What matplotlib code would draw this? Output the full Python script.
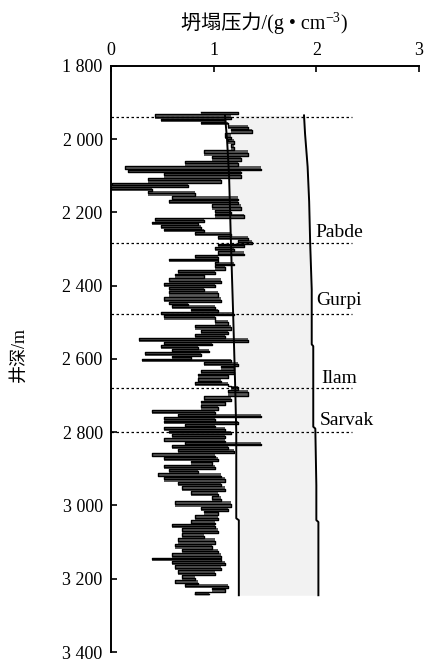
import numpy as np
import matplotlib
matplotlib.use("Agg")
import matplotlib.pyplot as plt

plt.rcParams['font.family'] = ['Liberation Serif', 'Noto Sans CJK SC', 'DejaVu Sans']

# collapse pressure log: depth (m), left / right extent of the trace (g/cm3)
depth = [1925, 1939, 1948, 1956, 1967, 1975, 1993, 2006, 2020, 2038, 2052, 2066,
         2080, 2089, 2098, 2112, 2125, 2135, 2148, 2162, 2171, 2185, 2199, 2208,
         2221, 2230, 2240, 2249, 2258, 2271, 2281, 2290, 2299, 2312, 2322, 2331,
         2340, 2349, 2363, 2372, 2386, 2399, 2408, 2421, 2440, 2449, 2458, 2467,
         2476, 2486, 2499, 2513, 2527, 2536, 2547, 2558, 2568, 2577, 2586, 2595,
         2604, 2613, 2623, 2636, 2645, 2659, 2668, 2677, 2691, 2709, 2718, 2732,
         2746, 2755, 2764, 2773, 2782, 2791, 2800, 2809, 2823, 2831, 2841, 2850,
         2864, 2873, 2882, 2896, 2905, 2919, 2928, 2941, 2955, 2968, 2982, 2996,
         3010, 3019, 3033, 3047, 3056, 3069, 3083, 3097, 3111, 3124, 3138, 3147,
         3157, 3170, 3184, 3197, 3211, 3220, 3229, 3242]
lo = [0.88, 0.43, 0.49, 0.88, 1.14, 1.17, 1.11, 1.14, 1.17, 0.91, 0.98, 0.72,
      0.14, 0.17, 0.52, 0.36, 0.01, 0.00, 0.36, 0.59, 0.56, 0.98, 1.01, 1.01,
      0.43, 0.40, 0.49, 0.52, 0.82, 1.04, 1.24, 1.04, 1.01, 1.04, 0.82, 0.56,
      1.01, 1.01, 0.65, 0.62, 0.56, 0.52, 0.56, 0.56, 0.52, 0.56, 0.59, 0.78,
      0.49, 0.52, 1.01, 0.82, 0.88, 0.82, 0.27, 0.52, 0.49, 0.59, 0.33, 0.59,
      0.30, 0.91, 1.07, 0.88, 0.85, 0.85, 0.82, 1.17, 1.14, 0.91, 0.88, 0.88,
      0.40, 0.65, 0.52, 0.52, 0.72, 0.52, 0.56, 0.59, 0.52, 0.72, 0.59, 0.65,
      0.40, 0.52, 0.78, 0.52, 0.56, 0.46, 0.52, 0.65, 0.69, 0.78, 0.98, 0.62,
      0.88, 0.91, 0.82, 0.78, 0.59, 0.69, 0.69, 0.65, 0.62, 0.69, 0.59, 0.40,
      0.59, 0.62, 0.65, 0.69, 0.62, 0.72, 0.98, 0.82]
hi = [1.24, 1.17, 1.11, 1.14, 1.33, 1.37, 1.17, 1.20, 1.20, 1.33, 1.27, 1.24,
      1.46, 1.27, 1.27, 1.07, 0.75, 0.40, 0.82, 1.24, 1.24, 1.27, 1.17, 1.30,
      0.91, 0.85, 0.88, 0.91, 1.17, 1.33, 1.37, 1.30, 1.20, 1.30, 1.04, 1.04,
      1.20, 1.11, 1.01, 0.91, 1.07, 1.01, 0.91, 1.04, 1.07, 0.75, 1.01, 1.04,
      1.20, 1.01, 1.14, 1.17, 1.14, 1.11, 1.33, 0.98, 0.85, 0.95, 0.88, 0.78,
      1.17, 1.24, 1.20, 1.20, 1.14, 1.07, 1.14, 1.24, 1.33, 1.17, 1.11, 1.04,
      1.01, 1.46, 1.01, 1.24, 1.01, 1.11, 1.17, 1.11, 1.11, 1.46, 1.14, 1.20,
      1.01, 1.04, 0.98, 1.01, 0.85, 1.07, 1.11, 1.07, 1.11, 1.04, 1.07, 1.17,
      1.14, 1.04, 1.04, 1.01, 1.01, 1.04, 0.91, 1.01, 0.98, 1.04, 1.07, 1.07,
      1.11, 1.07, 1.01, 0.82, 0.85, 1.14, 1.11, 0.95]

# lower bound (collapse trend) and upper bound lines
low_depth = [1935, 2000, 2100, 2200, 2300, 2480, 2680, 2800, 3035, 3040, 3245]
low_val = [1.11, 1.13, 1.15, 1.16, 1.17, 1.19, 1.21, 1.22, 1.22, 1.245, 1.245]
up_depth = [1935, 1985, 2075, 2170, 2285, 2410, 2560, 2565, 2785, 2790, 2945,
            3040, 3045, 3245]
up_val = [1.88, 1.89, 1.915, 1.93, 1.94, 1.955, 1.955, 1.97, 1.97, 1.99, 2.0,
          2.0, 2.02, 2.02]

# formation tops
tops = [1938, 2284, 2478, 2680, 2799]
formations = ['Pabde', 'Gurpi', 'Ilam', 'Sarvak']
form_x = [1.99, 2.0, 2.05, 2.03]
form_y = [2254, 2440, 2654, 2769]

yticks = [1800, 2000, 2200, 2400, 2600, 2800, 3000, 3200, 3400]
ytick_labels = ['1 800', '2 000', '2 200', '2 400', '2 600', '2 800', '3 000',
                '3 200', '3 400']

fig = plt.figure(figsize=(4.25, 6.61), dpi=100)
ax = fig.add_axes([0.2612, 0.0136, 0.7247, 0.8866])

# light band between the two bound lines
ud = np.array(up_depth)
lv = np.interp(ud, low_depth, low_val)
ax.fill_betweenx(ud, lv, up_val, color='#f2f2f2', lw=0, zorder=1)
ax.plot(low_val, low_depth, color='black', lw=1.4, zorder=4)
ax.plot(up_val, up_depth, color='black', lw=1.4, zorder=4)

# the log itself: gray body, then horizontal strokes lo->hi, hi->next lo
ax.fill_betweenx(depth, lo, hi, step='mid', color='#5a5a5a', lw=0, zorder=2)
d = np.asarray(depth, float)
mid = np.append((d[:-1] + d[1:]) / 2, d[-1])
nxt_lo = np.append(lo[1:], lo[-1])
zx = np.column_stack([lo, hi, hi, nxt_lo]).ravel()
zy = np.column_stack([d, d, mid, mid]).ravel()
ax.plot(zx, zy, color='black', lw=1.0, zorder=3)

for dd in tops:
    ax.plot([0, 2.35], [dd, dd], color='black', lw=0.9, ls=(0, (2, 2)), zorder=5)

for name, x, y in zip(formations, form_x, form_y):
    ax.text(x, y, name, fontsize=14, va='center', ha='left')

ax.set_xlim(0, 3)
ax.set_ylim(3400, 1800)
ax.xaxis.tick_top()
ax.set_xticks([0, 1, 2, 3])
ax.set_xticklabels(['0', '1', '2', '3'])
ax.set_yticks(yticks)
ax.set_yticklabels(ytick_labels)
ax.tick_params(direction='in', length=4, width=1.2, labelsize=13)
ax.tick_params(axis='x', pad=5)
ax.tick_params(axis='y', pad=6)

for s in ['right', 'bottom']:
    ax.spines[s].set_visible(False)
for s in ['left', 'top']:
    ax.spines[s].set_linewidth(1.4)

ax.set_ylabel('井深/m', fontsize=13)
ax.yaxis.set_label_coords(-0.272, 0.507)

# title on top, built in pieces so the exponent sits raised
renderer = fig.canvas.get_renderer()
pieces = [('坍塌压力/(g • cm', 14.5, 0), ('−3', 10, 7), (')', 14.5, 0)]
base_y = 1 - 29 / 661
texts = []
widths = []
for s, fs, rise in pieces:
    t = fig.text(0, base_y + rise / 661, s, fontsize=fs, va='baseline', ha='left')
    texts.append(t)
    widths.append(t.get_window_extent(renderer).width)
x0 = 264 - sum(widths) / 2
for t, w in zip(texts, widths):
    t.set_x(x0 / 425)
    x0 += w

fig.savefig('out.png', dpi=100)
